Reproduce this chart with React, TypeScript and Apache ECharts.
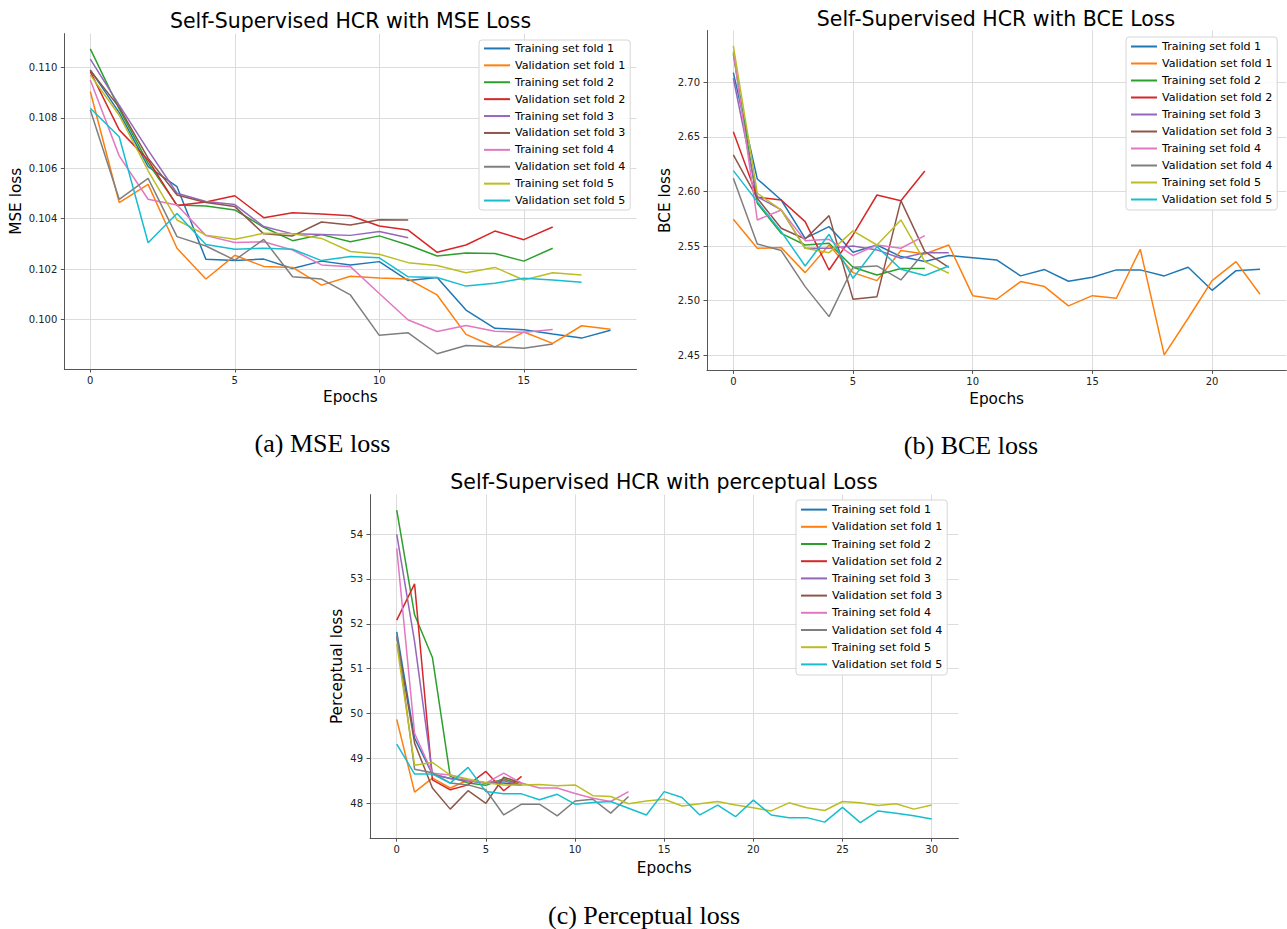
import React, { useEffect, useRef } from "react";
import * as echarts from "echarts";

const SERIES_NAMES = [
  "Training set fold 1",
  "Validation set fold 1",
  "Training set fold 2",
  "Validation set fold 2",
  "Training set fold 3",
  "Validation set fold 3",
  "Training set fold 4",
  "Validation set fold 4",
  "Training set fold 5",
  "Validation set fold 5",
];
const COLORS = ["#1f77b4", "#ff7f0e", "#2ca02c", "#d62728", "#9467bd", "#8c564b", "#e377c2", "#7f7f7f", "#bcbd22", "#17becf"];

// (a) MSE loss
const MSE_TRAIN_1 = [0.1099, 0.1082, 0.10606, 0.10527, 0.10239, 0.10234, 0.1024, 0.10203, 0.10232, 0.10217, 0.1023, 0.10155, 0.10167, 0.10038, 0.09966, 0.0996, 0.09943, 0.09927, 0.09958];
const MSE_VAL_1 = [0.10904, 0.10464, 0.10536, 0.10283, 0.10161, 0.10255, 0.10211, 0.10207, 0.10137, 0.10172, 0.10165, 0.10161, 0.10098, 0.09942, 0.09892, 0.09951, 0.09906, 0.09976, 0.09962];
const MSE_TRAIN_2 = [0.11073, 0.10835, 0.1062, 0.10454, 0.1045, 0.10435, 0.10366, 0.10313, 0.10337, 0.10309, 0.10332, 0.10296, 0.10252, 0.10264, 0.10262, 0.10232, 0.10283];
const MSE_VAL_2 = [0.10983, 0.10752, 0.10633, 0.10452, 0.10466, 0.10491, 0.10404, 0.10424, 0.10419, 0.10412, 0.10371, 0.10355, 0.10267, 0.10296, 0.10351, 0.10317, 0.10367];
const MSE_TRAIN_3 = [0.11032, 0.1085, 0.10672, 0.10501, 0.10468, 0.10456, 0.10369, 0.1034, 0.10337, 0.10334, 0.10349, 0.10325];
const MSE_VAL_3 = [0.10987, 0.10841, 0.1064, 0.10494, 0.10464, 0.10448, 0.1034, 0.10332, 0.10387, 0.10375, 0.10396, 0.10395];
const MSE_TRAIN_4 = [0.1095, 0.10649, 0.10477, 0.10454, 0.10333, 0.10306, 0.10309, 0.10276, 0.10217, 0.1021, 0.10104, 0.09999, 0.09953, 0.09977, 0.09954, 0.0995, 0.09961];
const MSE_VAL_4 = [0.10831, 0.10477, 0.1056, 0.10329, 0.10292, 0.10236, 0.10318, 0.1017, 0.10161, 0.10098, 0.09938, 0.09948, 0.09865, 0.09898, 0.09893, 0.09887, 0.09904];
const MSE_TRAIN_5 = [0.1097, 0.1081, 0.1059, 0.10395, 0.10335, 0.10319, 0.10342, 0.1034, 0.10322, 0.1027, 0.10259, 0.10226, 0.10215, 0.10186, 0.10207, 0.10157, 0.10186, 0.10177];
const MSE_VAL_5 = [0.10838, 0.10725, 0.10305, 0.10421, 0.10298, 0.10279, 0.10283, 0.10279, 0.10234, 0.1025, 0.10245, 0.1017, 0.10167, 0.10133, 0.10144, 0.10164, 0.10157, 0.10148];

// (b) BCE loss
const BCE_TRAIN_1 = [2.7089, 2.6115, 2.5922, 2.5571, 2.5678, 2.5443, 2.551, 2.5404, 2.5358, 2.5413, 2.5394, 2.5373, 2.5227, 2.5285, 2.5178, 2.5214, 2.5282, 2.5282, 2.5227, 2.5306, 2.5095, 2.5275, 2.5288];
const BCE_VAL_1 = [2.5745, 2.548, 2.5486, 2.5257, 2.551, 2.5257, 2.5184, 2.5459, 2.5428, 2.551, 2.5046, 2.5013, 2.5175, 2.5129, 2.4952, 2.5046, 2.5022, 2.5471, 2.4503, 2.4839, 2.5184, 2.5358, 2.5059];
const BCE_TRAIN_2 = [2.726, 2.5892, 2.5617, 2.551, 2.5526, 2.5306, 2.5236, 2.5294, 2.5294];
const BCE_VAL_2 = [2.6548, 2.5947, 2.5922, 2.5724, 2.5281, 2.5602, 2.5968, 2.5916, 2.6188];
const BCE_TRAIN_3 = [2.7037, 2.5953, 2.5831, 2.548, 2.548, 2.5501, 2.5465, 2.5388, 2.544, 2.544];
const BCE_VAL_3 = [2.6335, 2.5938, 2.5663, 2.5565, 2.5779, 2.5013, 2.5037, 2.5916, 2.5449, 2.5306];
const BCE_TRAIN_4 = [2.7281, 2.5739, 2.5831, 2.555, 2.5562, 2.5413, 2.551, 2.548, 2.5596];
const BCE_VAL_4 = [2.6121, 2.552, 2.5459, 2.5129, 2.4854, 2.5306, 2.5318, 2.519, 2.5449];
const BCE_TRAIN_5 = [2.7333, 2.5984, 2.5831, 2.548, 2.544, 2.5639, 2.551, 2.5739, 2.5358, 2.5251];
const BCE_VAL_5 = [2.6191, 2.5907, 2.5632, 2.5318, 2.5608, 2.5205, 2.5495, 2.5288, 2.523, 2.5318];

// (c) Perceptual loss
const PER_TRAIN_1 = [51.82, 49.45, 48.65, 48.55, 48.5, 48.45, 48.45, 48.4];
const PER_VAL_1 = [49.87, 48.25, 48.56, 48.34, 48.52, 48.46, 48.52, 48.45];
const PER_TRAIN_2 = [54.53, 52.2, 51.25, 48.6, 48.45, 48.4, 48.55, 48.4];
const PER_VAL_2 = [52.08, 52.89, 48.52, 48.3, 48.41, 48.71, 48.28, 48.6];
const PER_TRAIN_3 = [53.99, 51.6, 48.65, 48.55, 48.5, 48.45, 48.5, 48.4];
const PER_VAL_3 = [51.71, 49.34, 48.34, 47.87, 48.28, 48.0, 48.58, 48.45];
const PER_TRAIN_4 = [53.68, 49.56, 48.67, 48.63, 48.52, 48.45, 48.67, 48.45, 48.34, 48.34, 48.22, 48.11, 48.04, 48.26];
const PER_VAL_4 = [51.75, 48.76, 48.68, 48.45, 48.41, 48.3, 47.74, 47.98, 47.98, 47.72, 48.05, 48.09, 47.78, 48.15];
const PER_TRAIN_5 = [51.55, 48.85, 48.91, 48.63, 48.54, 48.46, 48.41, 48.41, 48.42, 48.39, 48.41, 48.17, 48.15, 47.99, 48.05, 48.09, 47.94, 47.99, 48.04, 47.96, 47.9, 47.83, 48.01, 47.9, 47.84, 48.04, 48.01, 47.95, 47.99, 47.87, 47.96];
const PER_VAL_5 = [49.32, 48.65, 48.65, 48.45, 48.8, 48.26, 48.21, 48.21, 48.08, 48.2, 47.98, 48.02, 48.04, 47.89, 47.74, 48.26, 48.13, 47.74, 47.96, 47.7, 48.07, 47.74, 47.68, 47.68, 47.58, 47.91, 47.57, 47.83, 47.78, 47.72, 47.65];

const MSE_SERIES = [MSE_TRAIN_1, MSE_VAL_1, MSE_TRAIN_2, MSE_VAL_2, MSE_TRAIN_3, MSE_VAL_3, MSE_TRAIN_4, MSE_VAL_4, MSE_TRAIN_5, MSE_VAL_5];
const BCE_SERIES = [BCE_TRAIN_1, BCE_VAL_1, BCE_TRAIN_2, BCE_VAL_2, BCE_TRAIN_3, BCE_VAL_3, BCE_TRAIN_4, BCE_VAL_4, BCE_TRAIN_5, BCE_VAL_5];
const PER_SERIES = [PER_TRAIN_1, PER_VAL_1, PER_TRAIN_2, PER_VAL_2, PER_TRAIN_3, PER_VAL_3, PER_TRAIN_4, PER_VAL_4, PER_TRAIN_5, PER_VAL_5];

const MSE_X_TICKS = [0, 5, 10, 15];
const MSE_Y_TICKS = [0.1, 0.102, 0.104, 0.106, 0.108, 0.11];
const BCE_X_TICKS = [0, 5, 10, 15, 20];
const BCE_Y_TICKS = [2.45, 2.5, 2.55, 2.6, 2.65, 2.7];
const PER_X_TICKS = [0, 5, 10, 15, 20, 25, 30];
const PER_Y_TICKS = [48, 49, 50, 51, 52, 53, 54];

const FONT = '"DejaVu Sans", sans-serif';
const SERIF = '"Liberation Serif", "Times New Roman", serif';

function yExtent(arrs: number[][]) {
  let mn = Infinity;
  let mx = -Infinity;
  arrs.forEach((a) => a.forEach((v) => { if (v < mn) mn = v; if (v > mx) mx = v; }));
  const pad = (mx - mn) * 0.05;
  return [mn - pad, mx + pad];
}
function xExtent(arrs: number[][]) {
  const n = Math.max(...arrs.map((a) => a.length)) - 1;
  return [-n * 0.05, n * 1.05];
}

type Sub = {
  data: number[][];
  grid: { left: number; top: number; width: number; height: number };
  xTicks: number[];
  yTicks: number[];
  yDigits: number;
  yName: string;
  yNameGap: number;
  xNameGap: number;
  legend: { left: number; top: number; lineHeight: number; padding: number[] };
};

const SUBS: Sub[] = [
  {
    data: MSE_SERIES,
    grid: { left: 64.3, top: 33.6, width: 572.2, height: 335.4 },
    xTicks: MSE_X_TICKS, yTicks: MSE_Y_TICKS, yDigits: 3,
    yName: "MSE loss", yNameGap: 41, xNameGap: 20,
    legend: { left: 479, top: 40, lineHeight: 16.9, padding: [0, 5, 1, 5] },
  },
  {
    data: BCE_SERIES,
    grid: { left: 707, top: 30.5, width: 579.3, height: 339.9 },
    xTicks: BCE_X_TICKS, yTicks: BCE_Y_TICKS, yDigits: 2,
    yName: "BCE loss", yNameGap: 35, xNameGap: 21,
    legend: { left: 1126, top: 37, lineHeight: 17, padding: [1, 5, 2, 5] },
  },
  {
    data: PER_SERIES,
    grid: { left: 370, top: 494.6, width: 588.4, height: 343.6 },
    xTicks: PER_X_TICKS, yTicks: PER_Y_TICKS, yDigits: 0,
    yName: "Perceptual loss", yNameGap: 26, xNameGap: 22,
    legend: { left: 796, top: 500, lineHeight: 17.2, padding: [1, 5, 2, 5] },
  },
];

const TITLES = [
  { text: "Self-Supervised HCR with MSE Loss", x: 350.5, y: 21 },
  { text: "Self-Supervised HCR with BCE Loss", x: 996, y: 19 },
  { text: "Self-Supervised HCR with perceptual Loss", x: 664, y: 482 },
];
const CAPTIONS = [
  { text: "(a) MSE loss", x: 322.5, y: 443 },
  { text: "(b) BCE loss", x: 971, y: 445 },
  { text: "(c) Perceptual loss", x: 644, y: 915 },
];

export default function App() {
  const ref = useRef<HTMLDivElement>(null);
  useEffect(() => {
    if (!ref.current) return;
    const chart = echarts.init(ref.current, undefined, { renderer: "svg" });
    const spine = "#555555";
    const grids: any[] = [];
    const xAxes: any[] = [];
    const yAxes: any[] = [];
    const legends: any[] = [];
    const series: any[] = [];
    SUBS.forEach((s, gi) => {
      grids.push({ ...s.grid, containLabel: false });
      const [xmin, xmax] = xExtent(s.data);
      const [ymin, ymax] = yExtent(s.data);
      xAxes.push({
        type: "value", gridIndex: gi, min: xmin, max: xmax,
        name: "Epochs", nameLocation: "middle", nameGap: s.xNameGap,
        nameTextStyle: { fontFamily: FONT, fontSize: 15.3, color: "#000" },
        axisLine: { show: true, onZero: false, lineStyle: { color: spine, width: 1 } },
        axisTick: { show: true, length: 3.5, customValues: s.xTicks, lineStyle: { color: spine } },
        axisLabel: { customValues: s.xTicks, fontFamily: FONT, fontSize: 10, color: "#222", margin: 6 },
        splitLine: { show: true, lineStyle: { color: "#dcdcdc", width: 1 } },
      });
      yAxes.push({
        type: "value", gridIndex: gi, min: ymin, max: ymax,
        name: s.yName, nameLocation: "middle", nameGap: s.yNameGap,
        nameTextStyle: { fontFamily: FONT, fontSize: 15.3, color: "#000" },
        axisLine: { show: true, onZero: false, lineStyle: { color: spine, width: 1 } },
        axisTick: { show: true, length: 3.5, customValues: s.yTicks, lineStyle: { color: spine } },
        axisLabel: {
          customValues: s.yTicks, fontFamily: FONT, fontSize: 10, color: "#222", margin: 7,
          formatter: (v: number) => v.toFixed(s.yDigits),
        },
        splitLine: { show: true, lineStyle: { color: "#dcdcdc", width: 1 } },
      });
      legends.push({
        orient: "vertical", left: s.legend.left, top: s.legend.top,
        data: SERIES_NAMES, icon: "rect", itemWidth: 26, itemHeight: 2, itemGap: 0,
        padding: s.legend.padding,
        backgroundColor: "rgba(255,255,255,0.85)", borderColor: "#d6d6d6", borderWidth: 1, borderRadius: 3,
        textStyle: { fontFamily: FONT, fontSize: 11.1, color: "#000", lineHeight: s.legend.lineHeight },
        selectedMode: false,
      });
      s.data.forEach((arr, si) => {
        series.push({
          type: "line", name: SERIES_NAMES[si], xAxisIndex: gi, yAxisIndex: gi,
          data: arr.map((v, i) => [i, v]),
          symbol: "none", showSymbol: false, color: COLORS[si],
          lineStyle: { width: 1.5, color: COLORS[si] }, itemStyle: { color: COLORS[si] },
          emphasis: { disabled: true }, silent: true,
        });
      });
    });
    const graphic: any[] = [];
    TITLES.forEach((t) => graphic.push({
      type: "text", x: t.x, y: t.y, silent: true,
      style: { text: t.text, fontFamily: FONT, fontSize: 20.5, fill: "#000", align: "center", verticalAlign: "middle" },
    }));
    CAPTIONS.forEach((t) => graphic.push({
      type: "text", x: t.x, y: t.y, silent: true,
      style: { text: t.text, fontFamily: SERIF, fontSize: 26, fill: "#000", align: "center", verticalAlign: "middle" },
    }));
    chart.setOption({
      animation: false,
      backgroundColor: "#ffffff",
      grid: grids, xAxis: xAxes, yAxis: yAxes, legend: legends, series, graphic,
      tooltip: { show: false },
    });
    return () => chart.dispose();
  }, []);
  return <div ref={ref} style={{ position: "absolute", left: 0, top: 0, width: 1287, height: 929 }} />;
}
